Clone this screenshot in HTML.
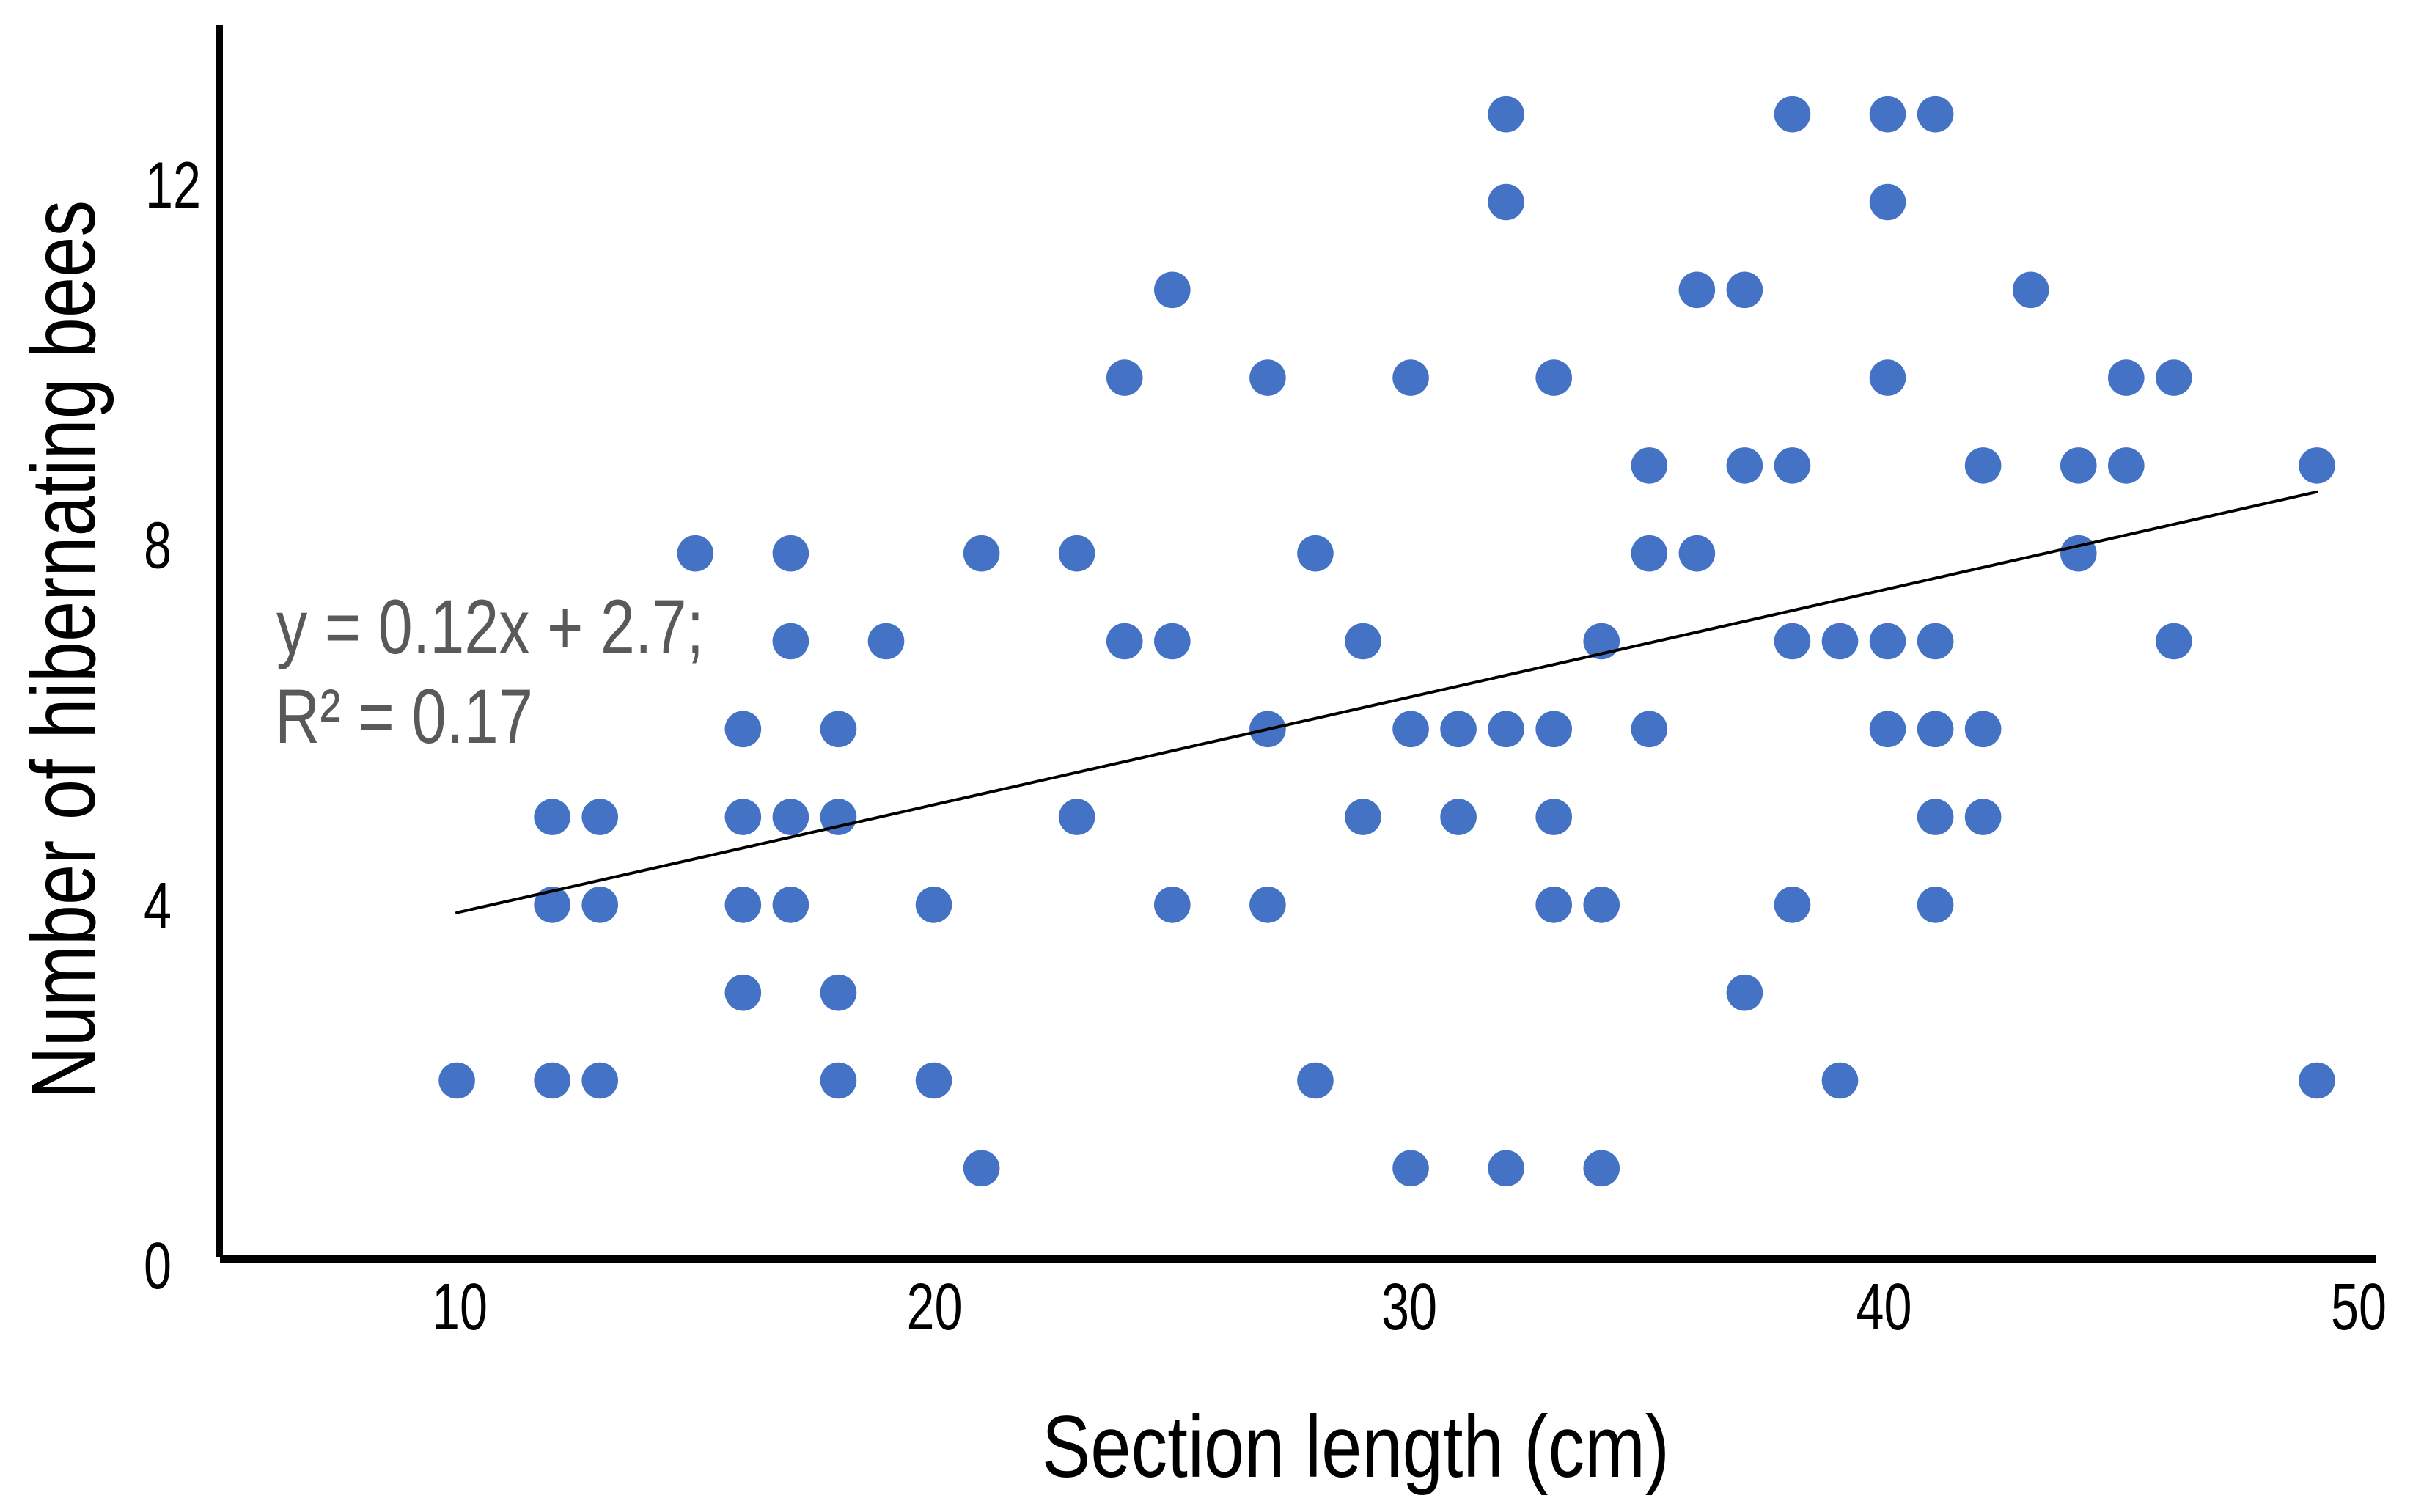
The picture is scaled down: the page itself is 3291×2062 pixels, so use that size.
<!DOCTYPE html>
<html lang="en">
<head>
<meta charset="utf-8">
<title>Hibernating bees vs section length</title>
<style>
html,body{margin:0;padding:0;background:#fff;width:3291px;height:2062px;overflow:hidden}
svg{display:block}
text{font-family:"Liberation Sans",sans-serif}
</style>
</head>
<body>
<svg id="chart" xmlns="http://www.w3.org/2000/svg" width="3291" height="2062" viewBox="0 0 3291 2062">
  <rect x="0" y="0" width="3291" height="2062" fill="#ffffff"/>
  <g id="points"></g>
  <g id="trend"></g>
  <rect x="295" y="34" width="9" height="1680" fill="#000"/>
  <rect x="300" y="1712" width="2940" height="10" fill="#000"/>
  <g id="xticks"></g>
  <g id="yticks"></g>
  <text x="1421" y="2014" font-size="120" textLength="856" lengthAdjust="spacingAndGlyphs" fill="#000">Section length (cm)</text>
  <text transform="translate(129,1499) rotate(-90)" x="0" y="0" font-size="124" textLength="1226" lengthAdjust="spacingAndGlyphs" fill="#000">Number of hibernating bees</text>
  <text x="377" y="891" font-size="105" textLength="583" lengthAdjust="spacingAndGlyphs" fill="#595959">y = 0.12x + 2.7;</text>
  <text x="375" y="1013" font-size="105" textLength="352" lengthAdjust="spacingAndGlyphs" fill="#595959">R² = 0.17</text>
</svg>
<script>
const sectionLength = [
  32,38,40,41,
  32,40,
  25,36,37,43,
  24,27,30,33,40,45,46,
  35,37,38,42,44,45,49,
  15,17,21,23,28,35,36,44,
  17,19,24,25,29,34,38,39,40,41,46,
  16,18,27,30,31,32,33,35,40,41,42,
  12,13,16,17,18,23,29,31,33,41,42,
  12,13,16,17,20,25,27,33,34,38,41,
  16,18,37,
  10,12,13,18,20,28,39,49,
  21,30,32,34
];
const beeCount = [
  13,13,13,13,
  12,12,
  11,11,11,11,
  10,10,10,10,10,10,10,
  9,9,9,9,9,9,9,
  8,8,8,8,8,8,8,8,
  7,7,7,7,7,7,7,7,7,7,7,
  6,6,6,6,6,6,6,6,6,6,6,
  5,5,5,5,5,5,5,5,5,5,5,
  4,4,4,4,4,4,4,4,4,4,4,
  3,3,3,
  2,2,2,2,2,2,2,2,
  1,1,1,1
];
const trendX = [10, 49];
const trendY = [3.91, 8.70];
const xTickLabels = [10, 20, 30, 40, 50];
const yTickLabels = [0, 4, 8, 12];

const NS = 'http://www.w3.org/2000/svg';
function xScale(v) { return 3160 + (v - 49) * 65.05; }
function yScale(v) { return 1713.1 - v * 119.8; }
function xTickCenter(v) { return 627 + (v - 10) * 64.75; }
function yTickBaseline(v) { return 1757 - v * 122.8; }

const pointsGroup = document.getElementById('points');
sectionLength.forEach(function (len, i) {
  const c = document.createElementNS(NS, 'circle');
  c.setAttribute('cx', xScale(len));
  c.setAttribute('cy', yScale(beeCount[i]));
  c.setAttribute('r', 24.8);
  c.setAttribute('fill', '#4472C4');
  
  
  pointsGroup.appendChild(c);
});

const trendGroup = document.getElementById('trend');
const trendLine = document.createElementNS(NS, 'line');
trendLine.setAttribute('x1', xScale(trendX[0]));
trendLine.setAttribute('y1', yScale(trendY[0]));
trendLine.setAttribute('x2', xScale(trendX[1]));
trendLine.setAttribute('y2', yScale(trendY[1]));
trendLine.setAttribute('stroke', '#000');
trendLine.setAttribute('stroke-width', 4);
trendLine.setAttribute('stroke-linecap', 'round');


trendGroup.appendChild(trendLine);

const xTickGroup = document.getElementById('xticks');
xTickLabels.forEach(function (v) {
  const t = document.createElementNS(NS, 'text');
  t.setAttribute('x', xTickCenter(v));
  t.setAttribute('y', 1813);
  t.setAttribute('font-size', 90);
  t.setAttribute('text-anchor', 'middle');
  t.setAttribute('textLength', 76);
  t.setAttribute('lengthAdjust', 'spacingAndGlyphs');
  t.setAttribute('fill', '#000');
  
  
  t.textContent = v;
  xTickGroup.appendChild(t);
});

const yTickGroup = document.getElementById('yticks');
yTickLabels.forEach(function (v) {
  const t = document.createElementNS(NS, 'text');
  const label = String(v);
  t.setAttribute('x', label.length > 1 ? 274 : 234);
  t.setAttribute('y', yTickBaseline(v));
  t.setAttribute('font-size', 90);
  t.setAttribute('text-anchor', 'end');
  t.setAttribute('textLength', label.length > 1 ? 76 : 38);
  t.setAttribute('lengthAdjust', 'spacingAndGlyphs');
  t.setAttribute('fill', '#000');
  
  
  t.textContent = label;
  yTickGroup.appendChild(t);
});
</script>
</body>
</html>
